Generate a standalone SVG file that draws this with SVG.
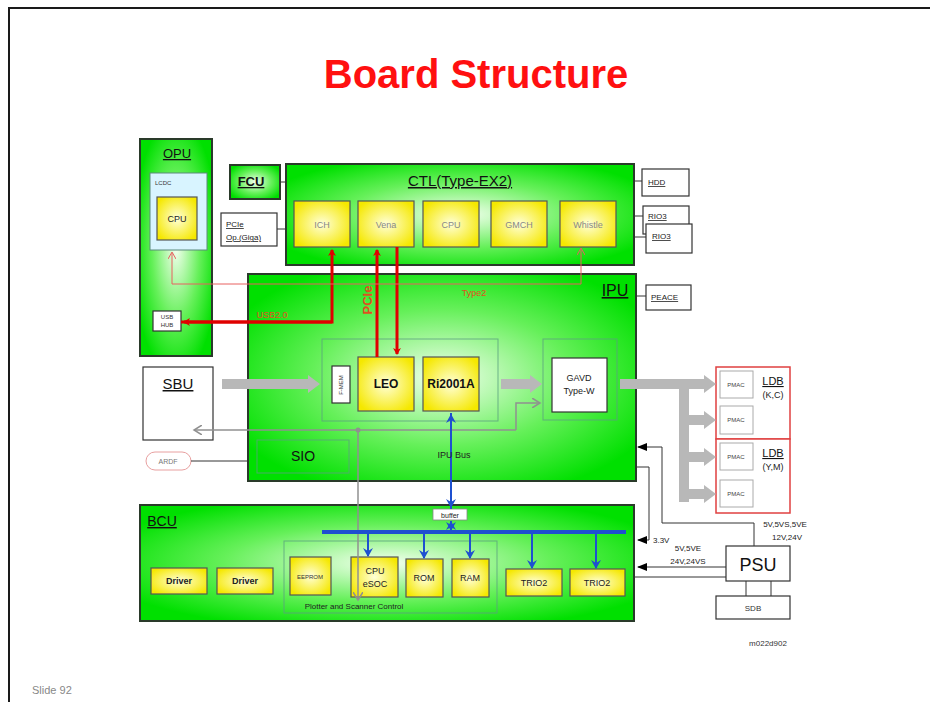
<svg xmlns="http://www.w3.org/2000/svg" width="930" height="702" viewBox="0 0 930 702">
<defs>
<radialGradient id="gG" cx="50%" cy="50%" r="60%">
<stop offset="0" stop-color="#f4fff0"/>
<stop offset="0.55" stop-color="#66f05a"/>
<stop offset="1" stop-color="#00e000"/>
</radialGradient>
<radialGradient id="gY" cx="50%" cy="50%" r="60%">
<stop offset="0" stop-color="#ffffd8"/>
<stop offset="1" stop-color="#f5e800"/>
</radialGradient>
<marker id="aR" markerWidth="8" markerHeight="8" refX="6" refY="4" orient="auto" markerUnits="userSpaceOnUse"><path d="M0,0 L7,4 L0,8 L2,4 Z" fill="#e00000"/></marker>
<marker id="aRt" markerWidth="8" markerHeight="8" refX="6" refY="4" orient="auto" markerUnits="userSpaceOnUse"><path d="M0,0 L7,4 L0,8" fill="none" stroke="#e86060" stroke-width="1"/></marker>
<marker id="aB" markerWidth="10" markerHeight="10" refX="8" refY="5" orient="auto" markerUnits="userSpaceOnUse"><path d="M0,0 L9,5 L0,10 L3,5 Z" fill="#1e50d0"/></marker>
<marker id="aK" markerWidth="10" markerHeight="10" refX="9" refY="5" orient="auto" markerUnits="userSpaceOnUse"><path d="M0,1 L10,5 L0,9 Z" fill="#000"/></marker>
<marker id="aGt" markerWidth="10" markerHeight="10" refX="8" refY="5" orient="auto" markerUnits="userSpaceOnUse"><path d="M0,0 L8,5 L0,10" fill="none" stroke="#909090" stroke-width="1.5"/></marker>
<marker id="aG" markerWidth="14" markerHeight="20" refX="0" refY="10" orient="auto" markerUnits="userSpaceOnUse"><path d="M0,1 L12,10 L0,19 Z" fill="#b8b8b8"/></marker>
</defs>
<style>
.frame{fill:none;stroke:#1a1a1a;stroke-width:2}
.grn{fill:url(#gG);stroke:#2a3a2a;stroke-width:2}
.yel{fill:url(#gY);stroke:#555;stroke-width:1.2}
.wht{fill:#fff;stroke:#333;stroke-width:1.2}
.faint{fill:none;stroke:#5aa080;stroke-width:1;opacity:0.8}
text{font-family:"Liberation Sans",Arial,sans-serif}
.t{font-size:9px;fill:#222;text-anchor:middle}
.tg{font-size:9px;fill:#888;text-anchor:middle}
.tb{font-size:12px;fill:#111;text-anchor:middle;font-weight:bold}
.lab{fill:#111;text-decoration:underline;text-anchor:middle}
.red3{stroke:#e00000;stroke-width:3;fill:none}
.red1{stroke:#e86060;stroke-width:1;fill:none}
.blue{stroke:#1e50d0;stroke-width:2;fill:none}
.grey{stroke:#909090;stroke-width:1.5;fill:none}
.blk{stroke:#333;stroke-width:1;fill:none}
.gthick{stroke:#b8b8b8;stroke-width:10;fill:none}
</style>
<path class="frame" d="M9,702 L9,8 L930,8"/>
<text x="476" y="88" font-size="40" font-weight="bold" fill="#ff1010" text-anchor="middle">Board Structure</text>

<g id="OPU"><rect class="grn" x="140" y="139" width="72" height="217"/><text class="lab" x="177" y="158" font-size="13">OPU</text></g>
<g id="LCDC"><rect x="150" y="173" width="57" height="77" fill="#d8f4ff" stroke="#5a8a7a" stroke-width="1"/><text x="155" y="185" font-size="6" fill="#333">LCDC</text></g>
<g id="OPU_CPU"><rect class="yel" x="157" y="197" width="40" height="43"/><text class="t" x="177" y="222">CPU</text></g>
<g id="USBHUB"><rect class="wht" x="153" y="311" width="28" height="20"/><text x="167" y="319" font-size="6" fill="#333" text-anchor="middle">USB</text><text x="167" y="327" font-size="6" fill="#333" text-anchor="middle">HUB</text></g>

<g id="FCU"><rect class="grn" x="230" y="165" width="50" height="34"/><text class="lab" x="251" y="186" font-size="13" font-weight="bold">FCU</text></g>
<g id="PCIeOp"><rect class="wht" x="221" y="213" width="56" height="33"/><text x="226" y="227" font-size="8" fill="#222" text-decoration="underline">PCIe</text><text x="226" y="240" font-size="8" fill="#222" text-decoration="underline">Op.(Giga)</text></g>

<g id="CTL"><rect class="grn" x="286" y="164" width="348" height="101"/><text class="lab" x="460" y="186" font-size="15">CTL(Type-EX2)</text></g>
<g id="ICH"><rect class="yel" x="294" y="201" width="56" height="46"/><text class="tg" x="322" y="228">ICH</text></g>
<g id="Vena"><rect class="yel" x="358" y="201" width="56" height="46"/><text class="tg" x="386" y="228">Vena</text></g>
<g id="CTL_CPU"><rect class="yel" x="423" y="201" width="56" height="46"/><text class="tg" x="451" y="228">CPU</text></g>
<g id="GMCH"><rect class="yel" x="491" y="201" width="56" height="46"/><text class="tg" x="519" y="228">GMCH</text></g>
<g id="Whistle"><rect class="yel" x="560" y="201" width="56" height="46"/><text class="tg" x="588" y="228">Whistle</text></g>

<g id="HDD"><rect class="wht" x="642" y="169" width="47" height="27"/><text x="648" y="185" font-size="8" fill="#222" text-decoration="underline">HDD</text></g>
<g id="RIO3a"><rect class="wht" x="643" y="206" width="46" height="28"/><text x="648" y="219" font-size="8" fill="#222" text-decoration="underline">RIO3</text></g>
<g id="RIO3b"><rect class="wht" x="646" y="224" width="46" height="29"/><text x="652" y="239" font-size="8" fill="#222" text-decoration="underline">RIO3</text></g>
<g id="PEACE"><rect class="wht" x="646" y="285" width="45" height="25"/><text x="651" y="300" font-size="8" fill="#222" text-decoration="underline">PEACE</text></g>

<g id="IPU"><rect class="grn" x="248" y="274" width="388" height="207"/><text class="lab" x="615" y="296" font-size="16">IPU</text></g>
<g id="IPU_inner"><rect class="faint" x="322" y="339" width="176" height="82"/></g>
<g id="FMEM"><rect class="wht" x="332" y="366" width="18" height="37"/><text x="341" y="385" font-size="6" fill="#333" text-anchor="middle" dominant-baseline="middle" transform="rotate(-90 341 385)">F-MEM</text></g>
<g id="LEO"><rect class="yel" x="358" y="357" width="56" height="54"/><text class="tb" x="386" y="388">LEO</text></g>
<g id="Ri2001A"><rect class="yel" x="423" y="357" width="56" height="54"/><text class="tb" x="451" y="388" font-size="10">Ri2001A</text></g>
<g id="GAVD_outer"><rect class="faint" x="543" y="339" width="74" height="81"/></g>
<g id="GAVD"><rect class="wht" x="552" y="358" width="55" height="54"/><text class="t" x="579" y="381">GAVD</text><text class="t" x="579" y="394">Type-W</text></g>
<g id="SIO"><rect class="faint" x="257" y="440" width="92" height="33"/><text x="303" y="461" font-size="14" fill="#111" text-anchor="middle">SIO</text></g>

<g id="SBU"><rect class="wht" x="143" y="367" width="70" height="73" stroke-width="1.5"/><text class="lab" x="178" y="389" font-size="15">SBU</text></g>
<g id="ARDF"><rect x="146" y="452" width="45" height="18" rx="9" fill="#fff" stroke="#e8a0a0" stroke-width="1"/><text x="168" y="464" font-size="7" fill="#777" text-anchor="middle">ARDF</text></g>

<g id="LDB_KC"><rect x="716" y="367" width="74" height="72" fill="#fff" stroke="#e04040" stroke-width="1.5"/><text class="lab" x="773" y="385" font-size="11">LDB</text><text x="773" y="398" font-size="9" fill="#222" text-anchor="middle">(K,C)</text></g>
<g id="LDB_YM"><rect x="716" y="439" width="74" height="74" fill="#fff" stroke="#e04040" stroke-width="1.5"/><text class="lab" x="773" y="457" font-size="11">LDB</text><text x="773" y="470" font-size="9" fill="#222" text-anchor="middle">(Y,M)</text></g>
<g id="PMAC1"><rect x="720" y="371" width="33" height="27" fill="#fff" stroke="#aaa"/><text x="736" y="387" font-size="6" fill="#444" text-anchor="middle">PMAC</text></g>
<g id="PMAC2"><rect x="720" y="406" width="33" height="28" fill="#fff" stroke="#aaa"/><text x="736" y="422" font-size="6" fill="#444" text-anchor="middle">PMAC</text></g>
<g id="PMAC3"><rect x="720" y="443" width="33" height="27" fill="#fff" stroke="#aaa"/><text x="736" y="459" font-size="6" fill="#444" text-anchor="middle">PMAC</text></g>
<g id="PMAC4"><rect x="720" y="480" width="33" height="27" fill="#fff" stroke="#aaa"/><text x="736" y="496" font-size="6" fill="#444" text-anchor="middle">PMAC</text></g>

<g id="BCU"><rect class="grn" x="140" y="505" width="494" height="116"/><text class="lab" x="162" y="526" font-size="14">BCU</text></g>
<g id="PSC"><rect class="faint" x="284" y="541" width="213" height="72"/><text x="354" y="609" font-size="8" fill="#222" text-anchor="middle">Plotter and Scanner Control</text></g>
<g id="Driver1"><rect class="yel" x="151" y="568" width="56" height="26"/><text class="t" x="179" y="584" font-size="10" font-weight="bold">Driver</text></g>
<g id="Driver2"><rect class="yel" x="217" y="568" width="56" height="26"/><text class="t" x="245" y="584" font-size="10" font-weight="bold">Driver</text></g>
<g id="EEPROM"><rect class="yel" x="290" y="557" width="41" height="38"/><text x="310" y="579" font-size="6" fill="#333" text-anchor="middle">EEPROM</text></g>
<g id="CPUeSOC"><rect class="yel" x="351" y="557" width="47" height="40"/><text class="t" x="375" y="574" font-size="10">CPU</text><text class="t" x="375" y="587" font-size="9">eSOC</text></g>
<g id="ROM"><rect class="yel" x="406" y="559" width="37" height="38"/><text class="t" x="424" y="581">ROM</text></g>
<g id="RAM"><rect class="yel" x="452" y="559" width="37" height="38"/><text class="t" x="470" y="581">RAM</text></g>
<g id="TRIO2a"><rect class="yel" x="506" y="569" width="56" height="27"/><text class="t" x="534" y="586" font-size="11">TRIO2</text></g>
<g id="TRIO2b"><rect class="yel" x="570" y="569" width="55" height="27"/><text class="t" x="597" y="586" font-size="11">TRIO2</text></g>
<g id="buffer"><rect x="433" y="509" width="34" height="11" fill="#fff" stroke="#888" stroke-width="0.8"/><text x="450" y="518" font-size="7" fill="#222" text-anchor="middle">buffer</text></g>

<g id="PSU"><rect class="wht" x="726" y="546" width="64" height="35"/><text x="758" y="571" font-size="18" fill="#111" text-anchor="middle">PSU</text></g>
<g id="SDB"><rect class="wht" x="716" y="596" width="74" height="23"/><text x="753" y="611" font-size="8" fill="#333" text-anchor="middle">SDB</text></g>

<g id="connectors">
<path class="blk" d="M280,182 H286 M277,229 H286 M634,181 H642 M634,216 H643 M634,237 H646 M636,296 H646 M191,461 H248"/>
<path class="red3" d="M181,322 H332 V250" marker-end="url(#aR)"/>
<path class="red3" d="M332,322 H184" marker-end="url(#aR)"/>
<path class="red3" d="M377,357 V250" marker-end="url(#aR)"/>
<path class="red3" d="M397,247 V354" marker-end="url(#aR)"/>
<path class="red1" d="M172,284 V253" marker-end="url(#aRt)"/>
<path class="red1" d="M172,284 H581 V249" marker-end="url(#aRt)"/>
<path class="gthick" d="M222,384 H308" marker-end="url(#aG)"/>
<path class="gthick" d="M501,384 H530" marker-end="url(#aG)"/>
<path class="gthick" d="M620,384 H704" marker-end="url(#aG)"/>
<path class="gthick" d="M684,389 V502"/>
<path class="gthick" d="M684,420 H704" marker-end="url(#aG)"/>
<path class="gthick" d="M684,457 H704" marker-end="url(#aG)"/>
<path class="gthick" d="M684,494 H704" marker-end="url(#aG)"/>
<path class="grey" d="M516,430 H194" marker-end="url(#aGt)"/>
<path class="grey" d="M516,430 V403 H540" marker-end="url(#aGt)"/>
<path class="grey" d="M358,430 V600" marker-end="url(#aGt)"/>
<circle cx="358" cy="430" r="2.5" fill="#909090"/>
<path class="blue" d="M451,509 V415" marker-end="url(#aB)"/>
<path class="blue" d="M451,413 V507" marker-end="url(#aB)"/>
<path class="blue" d="M451,532 V522" marker-end="url(#aB)"/>
<path class="blue" d="M451,521 V530" marker-end="url(#aB)"/>
<path d="M322,532 H626" stroke="#1e50d0" stroke-width="4" fill="none"/>
<path class="blue" d="M368,532 V556" marker-end="url(#aB)"/>
<path class="blue" d="M424,532 V558" marker-end="url(#aB)"/>
<path class="blue" d="M470,532 V558" marker-end="url(#aB)"/>
<path class="blue" d="M532,532 V568" marker-end="url(#aB)"/>
<path class="blue" d="M596,532 V568" marker-end="url(#aB)"/>
<path class="blk" d="M754,546 V523 H662 V447 H638" marker-end="url(#aK)"/>
<path class="blk" d="M636,467 H649 V540 H638" marker-end="url(#aK)"/>
<path class="blk" d="M726,567 H638" marker-end="url(#aK)"/>
<path class="blk" d="M726,577 H634"/>
<path class="blk" d="M746,581 V596 M771,581 V596"/>
</g>
<text x="272" y="318" font-size="9" fill="#e05020" text-anchor="middle">USB2.0</text>
<text x="474" y="296" font-size="9" fill="#e05020" text-anchor="middle">Type2</text>
<text x="372" y="300" font-size="13" font-weight="bold" fill="#e05020" text-anchor="middle" transform="rotate(-90 372 300)">PCIe</text>
<text x="454" y="458" font-size="9" fill="#222" text-anchor="middle">IPU Bus</text>
<text x="653" y="543" font-size="8" fill="#222">3.3V</text>
<text x="688" y="551" font-size="8" fill="#222" text-anchor="middle">5V,5VE</text>
<text x="688" y="564" font-size="8" fill="#222" text-anchor="middle">24V,24VS</text>
<text x="785" y="527" font-size="8" fill="#222" text-anchor="middle">5V,5VS,5VE</text>
<text x="787" y="540" font-size="8" fill="#222" text-anchor="middle">12V,24V</text>
<text x="768" y="646" font-size="8" fill="#333" text-anchor="middle">m022d902</text>
<text x="32" y="694" font-size="11" fill="#888">Slide 92</text>
</svg>
